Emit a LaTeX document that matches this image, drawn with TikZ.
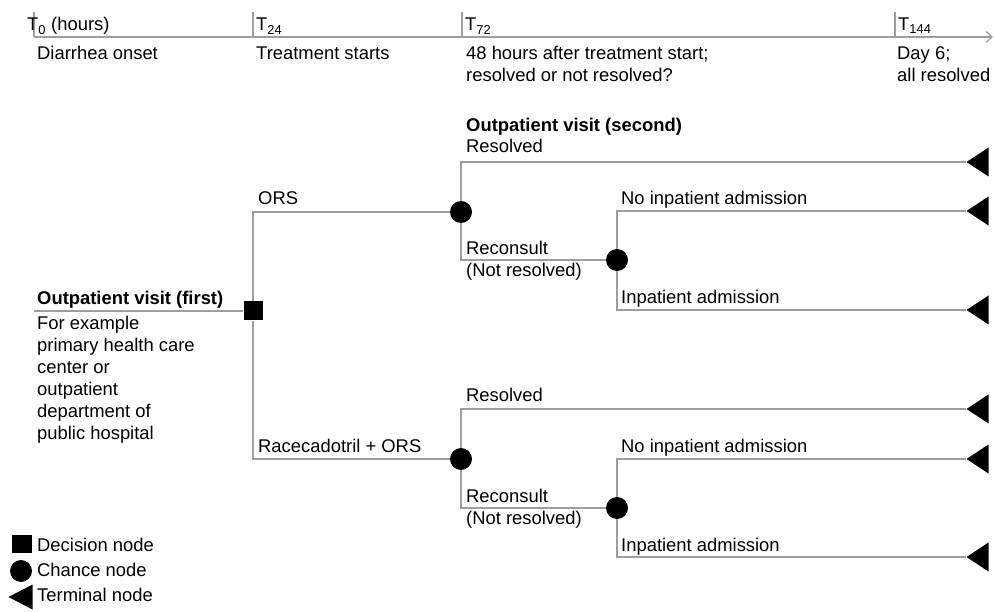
\documentclass[tikz,border=0pt]{standalone}
\usepackage{fontspec}
\setmainfont{Liberation Sans}
\usetikzlibrary{shapes.geometric,arrows.meta}
\definecolor{ln}{gray}{0.62}
\begin{document}
\begin{tikzpicture}[x=1pt,y=-1pt,font=\fontsize{18.4}{22}\selectfont,
  conn/.style={draw=ln,line width=1.5pt},
  decbox/.style={rectangle,fill=black,minimum width=19pt,minimum height=19pt,inner sep=0pt},
  chance/.style={circle,fill=black,minimum size=22pt,inner sep=0pt},
  term/.style={isosceles triangle,isosceles triangle stretches,shape border rotate=180,fill=black,inner sep=0pt,minimum width=29pt,minimum height=22pt},
  lbl/.style={anchor=base west,inner sep=0pt},
  bl/.style={anchor=base west,inner sep=0pt,font=\fontsize{18.4}{22}\selectfont\bfseries}]
\useasboundingbox (0,0) rectangle (994,612);

% timeline
\coordinate (tl0) at (34,37);
\coordinate (tlend) at (993,37);
\draw[conn,line width=1.2pt,-{Straight Barb[length=6pt,width=11pt]}] (tl0) -- (tlend);
\foreach \x in {34,253,462,895} \draw[ln,line width=1.2pt] (\x,12) -- (\x,37);
\node[lbl] (l0) at (27,31) {T\textsubscript{0} (hours)};
\node[lbl] (l0b) at (37,60) {Diarrhea onset};
\node[lbl] (l24) at (256,31) {T\textsubscript{24}};
\node[lbl] (l24b) at (256,60) {Treatment starts};
\node[lbl] (l72) at (465,31) {T\textsubscript{72}};
\node[lbl] (l72b) at (466,60) {48 hours after treatment start;};
\node[lbl] (l72c) at (466,82) {resolved or not resolved?};
\node[lbl] (l144) at (898,31) {T\textsubscript{144}};
\node[lbl] (l144b) at (897,60) {Day 6;};
\node[lbl] (l144c) at (897,82) {all resolved};

% nodes
\node[decbox] (d) at (253,311) {};
\coordinate (s) at (34,311);
\node[chance] (c1) at (461,212) {};
\node[chance] (c2) at (617,260) {};
\node[chance] (c3) at (461,459) {};
\node[chance] (c4) at (617,508) {};
\node[term,anchor=apex] (t1) at (966,162) {};
\node[term,anchor=apex] (t2) at (966,211) {};
\node[term,anchor=apex] (t3) at (966,310) {};
\node[term,anchor=apex] (t4) at (966,409) {};
\node[term,anchor=apex] (t5) at (966,459) {};
\node[term,anchor=apex] (t6) at (966,557) {};

% connectors
\draw[conn] (s) -- (d);
\draw[conn] (d) |- (c1);
\draw[conn] (d) |- (c3);
\draw[conn] (c1) |- (t1);
\draw[conn] (c1) |- (c2);
\draw[conn] (c2) |- (t2);
\draw[conn] (c2) |- (t3);
\draw[conn] (c3) |- (t4);
\draw[conn] (c3) |- (c4);
\draw[conn] (c4) |- (t5);
\draw[conn] (c4) |- (t6);

% labels
\node[bl] (first) at (37,305) {Outpatient visit (first)};
\node[lbl,align=left,anchor=north west] (firstd) at (37,316) {For example\\primary health care\\center or\\outpatient\\department of\\public hospital};
\node[lbl] (ors) at (258,205) {ORS};
\node[lbl] (rors) at (258,452) {Racecadotril + ORS};
\node[bl] (second) at (466,132) {Outpatient visit (second)};
\node[lbl] (res1) at (466,153) {Resolved};
\node[lbl] (rec1) at (466,255) {Reconsult};
\node[lbl] (nr1) at (466,277) {(Not resolved)};
\node[lbl] (noin1) at (621,205) {No inpatient admission};
\node[lbl] (in1) at (621,304) {Inpatient admission};
\node[lbl] (res2) at (466,402) {Resolved};
\node[lbl] (rec2) at (466,502) {Reconsult};
\node[lbl] (nr2) at (466,524) {(Not resolved)};
\node[lbl] (noin2) at (621,452) {No inpatient admission};
\node[lbl] (in2) at (621,551) {Inpatient admission};

% legend
\node[decbox,minimum width=20pt,minimum height=18pt] (ld) at (22,544) {};
\node[lbl] (ldt) at (37,551) {Decision node};
\node[chance] (lc) at (21,571) {};
\node[lbl] (lct) at (37,576) {Chance node};
\node[term,anchor=apex,minimum width=25pt,minimum height=24pt] (lt) at (8,597) {};
\node[lbl] (ltt) at (37,601) {Terminal node};
\end{tikzpicture}
\end{document}
